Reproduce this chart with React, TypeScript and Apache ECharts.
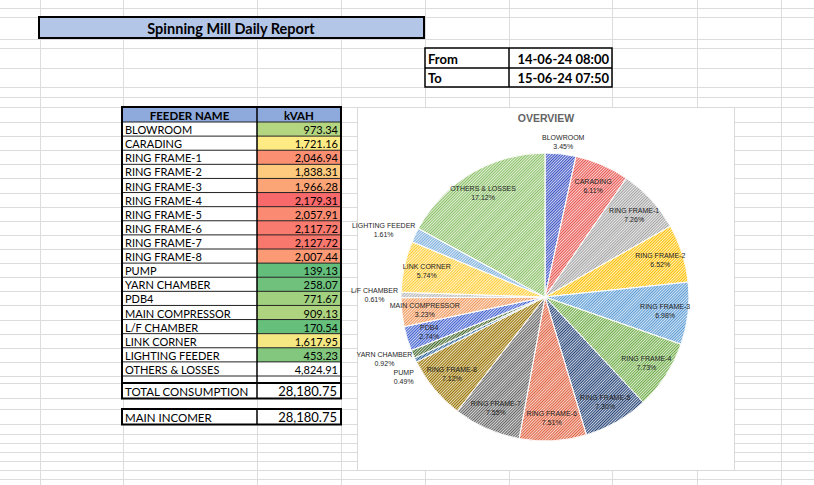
import React, { useEffect, useRef } from "react";
import * as echarts from "echarts";

// ---------- data ----------
const reportTitle = "Spinning Mill Daily Report";
const periodLabels = ["From", "To"];
const periodValues = ["14-06-24 08:00", "15-06-24 07:50"];
const tableHeaders = ["FEEDER NAME", "kVAH"];
const feeders = [
  "BLOWROOM",
  "CARADING",
  "RING FRAME-1",
  "RING FRAME-2",
  "RING FRAME-3",
  "RING FRAME-4",
  "RING FRAME-5",
  "RING FRAME-6",
  "RING FRAME-7",
  "RING FRAME-8",
  "PUMP",
  "YARN CHAMBER",
  "PDB4",
  "MAIN COMPRESSOR",
  "L/F CHAMBER",
  "LINK CORNER",
  "LIGHTING FEEDER",
  "OTHERS & LOSSES",
];
const kvah = [
  973.34, 1721.16, 2046.94, 1838.31, 1966.28, 2179.31, 2057.91, 2117.72, 2127.72,
  2007.44, 139.13, 258.07, 771.67, 909.13, 170.54, 1617.95, 453.23, 4824.91,
];
const summaryLabels = ["TOTAL CONSUMPTION", "MAIN INCOMER"];
const summaryValues = [28180.75, 28180.75];
const chartTitle = "OVERVIEW";
const outsideLabelFeeders = ["BLOWROOM", "PUMP", "YARN CHAMBER", "L/F CHAMBER", "LIGHTING FEEDER"];
const unscaledFeeders = ["OTHERS & LOSSES"];

// ---------- styles ----------
const sliceColors = [
  "#3b52c4", "#e8544e", "#a5a5a5", "#ffc000", "#5b9bd5", "#70ad47",
  "#264478", "#e0603e", "#636363", "#997300", "#255e91", "#43682b",
  "#3f5fd0", "#f1975a", "#b7b7b7", "#ffcd33", "#7cafdd", "#8cc168",
];
const FONT = "Lato";

function fmt(n: number): string {
  const [i, d] = n.toFixed(2).split(".");
  return i.replace(/\B(?=(\d{3})+(?!\d))/g, ",") + "." + d;
}

function hexToRgb(h: string) {
  return [parseInt(h.slice(1, 3), 16), parseInt(h.slice(3, 5), 16), parseInt(h.slice(5, 7), 16)];
}
function mix(a: string, b: string, t: number) {
  const A = hexToRgb(a), B = hexToRgb(b);
  const c = A.map((v, k) => Math.round(v + (B[k] - v) * t));
  return `rgb(${c[0]},${c[1]},${c[2]})`;
}
// Excel 3-colour scale (min green, 50th percentile yellow, max red)
function scaleColor(v: number, vals: number[]) {
  const s = [...vals].sort((a, b) => a - b);
  const min = s[0], max = s[s.length - 1];
  const mid = s.length % 2 ? s[(s.length - 1) / 2] : (s[s.length / 2 - 1] + s[s.length / 2]) / 2;
  if (v <= mid) return mix("#63be7b", "#ffeb84", (v - min) / (mid - min || 1));
  return mix("#ffeb84", "#f8696b", (v - mid) / (max - mid || 1));
}

export default function App() {
  const ref = useRef<HTMLDivElement>(null);
  useEffect(() => {
    if (!ref.current) return;
    const chart = echarts.init(ref.current, undefined, { renderer: "svg" });

    // sheet geometry
    const colX = [40, 123, 257, 341, 425, 509, 612, 697, 781];
    const tableTop = 107, headH = 15, firstRow = 122, rowH = (376 - 122) / feeders.length;
    const rowsY: number[] = [8, 17, 39, 48, 68, 87, 97, 107];
    for (let k = 0; k <= feeders.length; k++) rowsY.push(firstRow + k * rowH);
    rowsY.push(383, 398, 409, 424, 434, 443, 452, 461, 470, 479);

    const tL = 122, tM = 257, tR = 341;
    const blankBottom = 383;
    const g: any[] = [];
    // gridlines
    rowsY.forEach((y) =>
      g.push({ type: "line", z: 0, silent: true, shape: { x1: 0, y1: Math.round(y) + 0.5, x2: 814, y2: Math.round(y) + 0.5 }, style: { stroke: "#dcdcdc", lineWidth: 1 } })
    );
    colX.forEach((x) =>
      g.push({ type: "line", z: 0, silent: true, shape: { x1: x + 0.5, y1: 0, x2: x + 0.5, y2: 485 }, style: { stroke: "#dcdcdc", lineWidth: 1 } })
    );

    // title box
    g.push({ type: "rect", z: 1, shape: { x: 39, y: 17, width: 385, height: 21 }, style: { fill: "#b4c6e7", stroke: "#000", lineWidth: 2 } });
    g.push({ type: "text", z: 2, x: 231, y: 28.5, style: { text: reportTitle, fontFamily: FONT, fontWeight: "bold", fontSize: 14.5, fill: "#000", align: "center", verticalAlign: "middle" } });

    // period box
    g.push({ type: "rect", z: 1, shape: { x: 425, y: 48, width: 187, height: 39 }, style: { fill: "#fff", stroke: "#000", lineWidth: 1.5 } });
    g.push({ type: "line", z: 2, shape: { x1: 425, y1: 68, x2: 612, y2: 68 }, style: { stroke: "#000", lineWidth: 1.5 } });
    g.push({ type: "line", z: 2, shape: { x1: 509, y1: 48, x2: 509, y2: 87 }, style: { stroke: "#000", lineWidth: 1.5 } });
    periodLabels.forEach((t, i) => {
      const y = 58.5 + i * 19.5;
      g.push({ type: "text", z: 3, x: 428, y, style: { text: t, fontFamily: FONT, fontWeight: "bold", fontSize: 13, fill: "#000", align: "left", verticalAlign: "middle" } });
      g.push({ type: "text", z: 3, x: 609, y, style: { text: periodValues[i], fontFamily: FONT, fontWeight: "bold", fontSize: 13, fill: "#000", align: "right", verticalAlign: "middle" } });
    });

    // table
    g.push({ type: "rect", z: 1, shape: { x: tL, y: tableTop, width: tR - tL, height: headH }, style: { fill: "#8ea9db" } });
    g.push({ type: "text", z: 3, x: (tL + tM) / 2, y: tableTop + headH / 2 + 0.5, style: { text: tableHeaders[0], fontFamily: FONT, fontWeight: "bold", fontSize: 11.5, fill: "#000", align: "center", verticalAlign: "middle" } });
    g.push({ type: "text", z: 3, x: (tM + tR) / 2, y: tableTop + headH / 2 + 0.5, style: { text: tableHeaders[1], fontFamily: FONT, fontWeight: "bold", fontSize: 11.5, fill: "#000", align: "center", verticalAlign: "middle" } });
    const scaled = kvah.filter((_, i) => !unscaledFeeders.includes(feeders[i]));
    feeders.forEach((name, i) => {
      const y = firstRow + i * rowH;
      g.push({ type: "rect", z: 1, shape: { x: tL, y, width: tM - tL, height: rowH }, style: { fill: "#fff" } });
      const fill = unscaledFeeders.includes(name) ? "#fff" : scaleColor(kvah[i], scaled);
      g.push({ type: "rect", z: 1, shape: { x: tM, y, width: tR - tM, height: rowH }, style: { fill } });
      g.push({ type: "text", z: 3, x: tL + 3, y: y + rowH / 2 + 0.5, style: { text: name, fontFamily: FONT, fontSize: 11, fill: "#000", align: "left", verticalAlign: "middle" } });
      g.push({ type: "text", z: 3, x: tR - 3, y: y + rowH / 2 + 0.5, style: { text: fmt(kvah[i]), fontFamily: FONT, fontSize: 11, fill: "#000", align: "right", verticalAlign: "middle" } });
    });
    // blank row inside table
    g.push({ type: "rect", z: 1, shape: { x: tL, y: 376, width: tR - tL, height: blankBottom - 376 }, style: { fill: "#fff" } });
    // inner lines
    for (let k = 0; k <= feeders.length + 1; k++) {
      const y = k <= feeders.length ? firstRow + k * rowH : blankBottom;
      g.push({ type: "line", z: 2, shape: { x1: tL, y1: y, x2: tR, y2: y }, style: { stroke: "#222", lineWidth: 1 } });
    }
    g.push({ type: "line", z: 2, shape: { x1: tM, y1: tableTop, x2: tM, y2: blankBottom }, style: { stroke: "#000", lineWidth: 1.5 } });
    g.push({ type: "rect", z: 2, shape: { x: tL, y: tableTop, width: tR - tL, height: blankBottom - tableTop }, style: { fill: "none", stroke: "#000", lineWidth: 2 } });

    // summary boxes
    const sumY = [383, 409];
    summaryLabels.forEach((lab, i) => {
      const y = sumY[i], h = 15.5;
      g.push({ type: "rect", z: 1, shape: { x: tL, y, width: tR - tL, height: h }, style: { fill: "#fff", stroke: "#000", lineWidth: 2 } });
      g.push({ type: "line", z: 2, shape: { x1: tM, y1: y, x2: tM, y2: y + h }, style: { stroke: "#000", lineWidth: 1.5 } });
      g.push({ type: "text", z: 3, x: tL + 3, y: y + h / 2 + 0.5, style: { text: lab, fontFamily: FONT, fontSize: 11.5, fill: "#000", align: "left", verticalAlign: "middle" } });
      g.push({ type: "text", z: 3, x: tR - 4, y: y + h / 2 + 0.5, style: { text: fmt(summaryValues[i]), fontFamily: FONT, fontSize: 13, fill: "#000", align: "right", verticalAlign: "middle" } });
    });

    // chart area
    g.push({ type: "rect", z: 1, shape: { x: 357.5, y: 107.5, width: 377, height: 363 }, style: { fill: "#fff", stroke: "#d9d9d9", lineWidth: 1 } });

    // pie geometry
    const cx = 545, cy = 297, R = 144;
    const total = kvah.reduce((a, b) => a + b, 0);
    const midAngles: number[] = [];
    let cum = 0;
    kvah.forEach((v) => {
      midAngles.push(90 - ((cum + v / 2) / total) * 360);
      cum += v;
    });

    chart.setOption({
      animation: false,
      backgroundColor: "#ffffff",
      title: {
        text: chartTitle,
        left: 546,
        top: 112,
        textAlign: "center",
        padding: 0,
        textStyle: { fontFamily: "Liberation Sans", fontSize: 10.5, fontWeight: "bold", color: "#646464" },
      },
      graphic: { elements: g },
      series: [
        {
          type: "pie",
          z: 5,
          center: [cx, cy],
          radius: R,
          startAngle: 90,
          clockwise: true,
          silent: true,
          avoidLabelOverlap: false,
          itemStyle: {
            borderColor: "#ffffff",
            borderWidth: 0.7,
            decal: {
              symbol: "rect",
              symbolSize: 1,
              dashArrayX: [1, 0],
              dashArrayY: [1, 1],
              rotation: -Math.PI / 4,
              color: "rgba(255,255,255,0.75)",
            },
          },
          label: {
            show: true,
            position: "inside",
            formatter: (p: any) => `${p.name}\n${((p.value / total) * 100).toFixed(2)}%`,
            fontFamily: "Liberation Sans",
            fontSize: 7,
            lineHeight: 9,
            color: "#262626",
          },
          labelLine: { show: false },
          labelLayout: (params: any) => {
            const i = params.dataIndex;
            const a = (midAngles[i] * Math.PI) / 180;
            const ux = Math.cos(a), uy = -Math.sin(a);
            const w = params.labelRect.width, h = params.labelRect.height;
            if (outsideLabelFeeders.includes(feeders[i])) {
              const px = cx + ux * (R + 3), py = cy + uy * (R + 3);
              return { x: px + (ux * w) / 2, y: py + (uy * h) / 2, align: "center", verticalAlign: "middle", moveOverlap: "shiftY" };
            }
            return { x: cx + ux * R * 0.84, y: cy + uy * R * 0.84, align: "center", verticalAlign: "middle" };
          },
          data: feeders.map((name, i) => ({ name, value: kvah[i], itemStyle: { color: sliceColors[i] } })),
        },
      ],
    });
    return () => chart.dispose();
  }, []);
  return <div ref={ref} style={{ position: "fixed", left: 0, top: 0, width: 814, height: 485 }} />;
}
